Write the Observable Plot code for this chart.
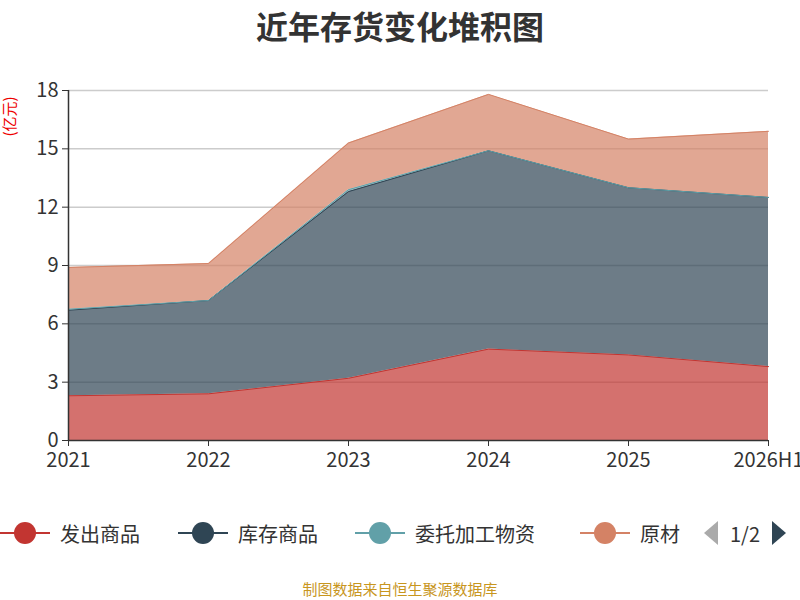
<!DOCTYPE html>
<html><head><meta charset="utf-8">
<script src="https://cdn.jsdelivr.net/npm/d3@7"></script>
<script src="https://cdn.jsdelivr.net/npm/@observablehq/plot@0.6"></script>
<style>
body{margin:0;width:800px;height:600px;overflow:hidden;background:#fff;font-family:"Noto Sans CJK SC","Noto Sans",sans-serif;position:relative}
#title{position:absolute;top:2px;left:0;width:800px;text-align:center;font-size:32px;font-weight:bold;color:#333}
#chart{position:absolute;top:55px;left:0}
#unit{position:absolute;left:-17px;top:106px;color:#e00;font-size:15px;transform:rotate(-90deg);transform-origin:center;width:50px;text-align:center;white-space:nowrap}
#legend{position:absolute;top:518px;left:0;height:30px;width:800px;font-size:20px;color:#333}
.li{position:absolute;top:0;display:flex;align-items:center;height:30px}
.sw{position:relative;width:50px;height:30px;margin-right:10px}
.sw .ln{position:absolute;left:0;right:0;top:14px;height:2px}
.sw .dt{position:absolute;left:14px;top:4px;width:22px;height:22px;border-radius:50%}
#caption{position:absolute;top:578px;width:800px;text-align:center;font-size:15px;color:#c8961e}
</style></head><body>
<div id="title">近年存货变化堆积图</div>
<div id="chart"></div>
<div id="unit">(亿元)</div>
<div id="legend"></div>
<div id="caption">制图数据来自恒生聚源数据库</div>
<script>
const years = ["2021","2022","2023","2024","2025","2026H1"];
const seriesNames = ["发出商品","库存商品","委托加工物资","原材料"];
const colors = ["#c23531","#2f4554","#61a0a8","#d48265"];
const faShang = [2.3, 2.4, 3.2, 4.7, 4.4, 3.8];
const kuCun   = [4.4, 4.8, 9.6, 10.2, 8.6, 8.7];
const weiTuo  = [0.05, 0.0, 0.1, 0.0, 0.0, 0.0];
const yuanCai = [2.15, 1.9, 2.4, 2.9, 2.5, 3.4];
const yTicks = [0,3,6,9,12,15,18];

const vals = [faShang, kuCun, weiTuo, yuanCai];
const data = [];
seriesNames.forEach((s,i)=>years.forEach((y,j)=>data.push({year:y, series:s, value:vals[i][j]})));

const chart = Plot.plot({
  width: 800, height: 420,
  marginLeft: 68, marginRight: 32, marginTop: 35, marginBottom: 35,
  style:{fontSize:"20px", color:"#333", fontFamily:"Noto Sans CJK SC, Noto Sans, sans-serif", overflow:"visible"},
  x:{type:"point", domain: years, label:null, padding:0},
  y:{domain:[0,18], ticks: yTicks, label:null},
  color:{domain: seriesNames, range: colors},
  marks:[
    Plot.ruleY(yTicks.slice(1), {stroke:"#ccc", strokeWidth:1.5}),
    Plot.areaY(data, {x:"year", y:"value", fill:"series", fillOpacity:0.7, order:seriesNames}),
    Plot.lineY(data, Plot.stackY2({x:"year", y:"value", z:"series", stroke:"series", strokeWidth:1, order:seriesNames})),
    Plot.axisY({ticks: yTicks, tickSize:6, tickPadding:4, fontSize:20}),
    Plot.ruleX([years[0]], {stroke:"#333", strokeWidth:1.5}),
    Plot.axisX({tickSize:6, tickPadding:6, fontSize:20, textAnchor:"middle"}),
    Plot.ruleY([0], {stroke:"#333", strokeWidth:1.5})
  ]
});
document.getElementById("chart").appendChild(chart);

const lg = document.getElementById("legend");
const lefts = [0, 178, 355, 580];
seriesNames.forEach((s,i)=>{
  const d = document.createElement("div");
  d.className="li"; d.style.left=(lefts[i])+"px";
  d.innerHTML = `<div class="sw"><div class="ln" style="background:${colors[i]}"></div><div class="dt" style="background:${colors[i]}"></div></div><span>${i===3?"原材":s}</span>`;
  lg.appendChild(d);
});
const pg = document.createElement("div");
pg.className="li"; pg.style.left="690px"; pg.style.background="#fff"; pg.style.width="110px";
pg.innerHTML = `<svg width="32" height="30"><polygon points="28,3 28,27 14,15" fill="#aaa"/></svg><span style="margin:0 8px 0 8px">1/2</span><svg width="22" height="30"><polygon points="4,3 4,27 18,15" fill="#2f4554"/></svg>`;
lg.appendChild(pg);
</script>
</body></html>
